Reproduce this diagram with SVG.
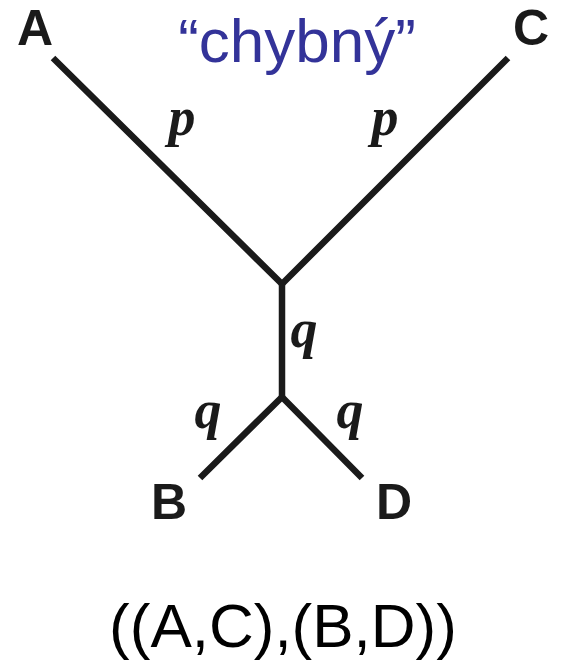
<svg xmlns="http://www.w3.org/2000/svg" width="561" height="671" viewBox="0 0 561 671">
<style>
.edge{stroke:#1a1a1a;stroke-width:6.5;fill:none;stroke-linecap:butt;stroke-linejoin:miter}
.leaf{font-family:"Liberation Sans",Arial,sans-serif;font-weight:bold;font-size:50px;fill:#1a1a1a;text-anchor:middle}
.bl{font-family:"Liberation Serif","Times New Roman",serif;font-weight:bold;font-style:italic;font-size:54px;fill:#1a1a1a;text-anchor:middle}
.title{font-family:"Liberation Sans",Arial,sans-serif;font-size:62px;fill:#333399;text-anchor:middle}
.newick{font-family:"Liberation Sans",Arial,sans-serif;font-size:62px;fill:#000;text-anchor:middle}
</style>
<rect width="561" height="671" fill="#fff"/>
<g id="connectors">
<polyline class="edge" points="53,58 282,284 508,58"/>
<polyline class="edge" points="200,478 282,397 362,478"/>
<line class="edge" x1="282" y1="282" x2="282" y2="398"/>
</g>
<g id="node-A"><text class="leaf" x="35" y="45">A</text></g>
<g id="node-C"><text class="leaf" x="531" y="45">C</text></g>
<g id="node-B"><text class="leaf" x="169" y="519">B</text></g>
<g id="node-D"><text class="leaf" x="394" y="519">D</text></g>
<g id="labels">
<text class="bl" x="182" y="135">p</text>
<text class="bl" x="385" y="135">p</text>
<text class="bl" x="304" y="347">q</text>
<text class="bl" x="208" y="428">q</text>
<text class="bl" x="350" y="428">q</text>
</g>
<g id="title"><text class="title" x="297" y="62">“chybný”</text></g>
<g id="newick"><text class="newick" x="283" y="647">((A,C),(B,D))</text></g>
</svg>
